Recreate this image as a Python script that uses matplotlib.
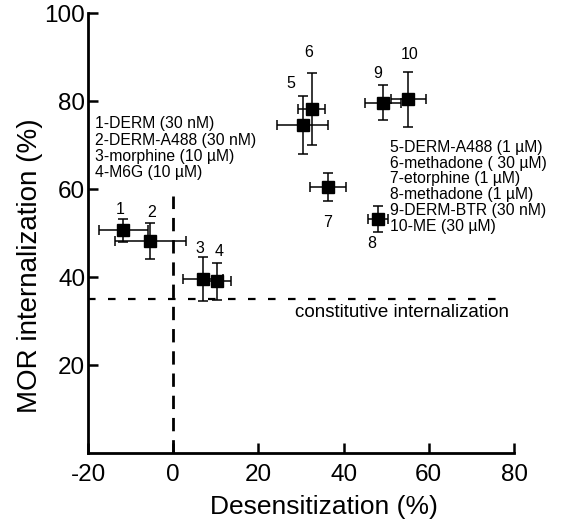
import matplotlib
matplotlib.use("Agg")
import matplotlib.pyplot as plt

plt.rcParams['font.family'] = ['Liberation Sans', 'DejaVu Sans']
plt.rcParams['axes.unicode_minus'] = False

# desensitization (x) vs MOR internalization (y), with SEM error bars
desens = [-11.7, -5.4, 7.0, 10.3, 30.4, 32.5, 36.3, 48.1, 49.3, 55.2]
desens_err = [5.8, 8.3, 4.7, 3.3, 6.0, 3.2, 4.3, 2.3, 4.2, 4.1]
intern = [50.6, 48.2, 39.5, 39.0, 74.6, 78.2, 60.4, 53.2, 79.6, 80.4]
intern_err = [2.6, 4.0, 5.0, 4.2, 6.6, 8.2, 3.2, 3.0, 4.0, 6.2]

point_labels = ['1', '2', '3', '4', '5', '6', '7', '8', '9', '10']
label_x = [-12.5, -5.0, 6.3, 10.8, 27.5, 31.8, 36.2, 46.5, 47.9, 55.5]
label_y = [55.3, 54.6, 46.5, 45.8, 84.0, 91.0, 52.3, 47.7, 86.3, 90.5]

legend_left = ['1-DERM (30 nM)', '2-DERM-A488 (30 nM)',
               '3-morphine (10 µM)', '4-M6G (10 µM)']
legend_right = ['5-DERM-A488 (1 µM)', '6-methadone ( 30 µM)',
                '7-etorphine (1 µM)', '8-methadone (1 µM)',
                '9-DERM-BTR (30 nM)', '10-ME (30 µM)']

constitutive = 35

fig = plt.figure(figsize=(5.62, 5.2), dpi=100)
ax = fig.add_axes([0.1566, 0.1288, 0.758, 0.8462])

# reference lines
ax.plot([0, 0], [0, 58.5], color='black', lw=2.0, linestyle=(0, (4.8, 3.2)))
ax.plot([-20, 77], [constitutive, constitutive], color='black', lw=1.6,
        linestyle=(0, (3.4, 5.6)))

ax.errorbar(desens, intern, xerr=desens_err, yerr=intern_err, fmt='s',
            color='black', ms=9, elinewidth=1.1, capsize=3.6,
            capthick=1.1)

for lab, lx, ly in zip(point_labels, label_x, label_y):
    ax.text(lx, ly, lab, fontsize=11.5, ha='center', va='center')

ax.text(-18.3, 76.5, '\n'.join(legend_left), fontsize=11.3, va='top',
        linespacing=1.1)
ax.text(50.9, 71.2, '\n'.join(legend_right), fontsize=11.3, va='top',
        linespacing=1.07)

ax.text(28.6, 32.0, 'constitutive internalization', fontsize=13.5,
        va='center')

ax.set_xlim(-20, 80)
ax.set_ylim(0, 100)
ax.set_xticks([-20, 0, 20, 40, 60, 80])
ax.set_yticks([20, 40, 60, 80, 100])
ax.spines['top'].set_visible(False)
ax.spines['right'].set_visible(False)
ax.spines['left'].set_linewidth(2.0)
ax.spines['bottom'].set_linewidth(2.0)
ax.tick_params(axis='both', direction='in', length=7, width=1.8,
               labelsize=17.5)
ax.tick_params(axis='y', pad=2)
ax.tick_params(axis='x', pad=8)

ax.set_xlabel('Desensitization (%)', fontsize=19)
ax.set_ylabel('MOR internalization (%)', fontsize=20)
ax.xaxis.set_label_coords(0.554, -0.095)
ax.yaxis.set_label_coords(-0.105, 0.425)

plt.savefig('out.png', dpi=100)
